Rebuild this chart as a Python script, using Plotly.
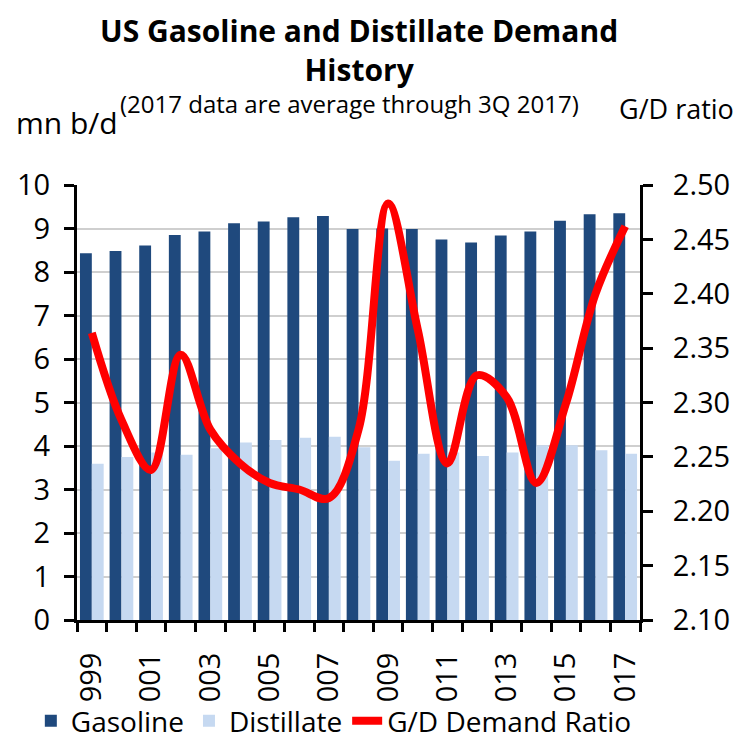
import plotly.graph_objects as go

years = list(range(1999, 2018))
gasoline = [8.43, 8.48, 8.61, 8.85, 8.93, 9.12, 9.16, 9.26, 9.29, 8.99,
            9.00, 8.99, 8.75, 8.68, 8.84, 8.93, 9.18, 9.33, 9.35]
distillate = [3.59, 3.75, 3.85, 3.80, 3.95, 4.08, 4.14, 4.19, 4.21, 3.97,
              3.66, 3.82, 3.85, 3.77, 3.85, 4.02, 4.02, 3.90, 3.82]
gd_ratio = [2.364, 2.284, 2.238, 2.344, 2.275, 2.244, 2.226, 2.220, 2.212, 2.275,
            2.483, 2.367, 2.244, 2.325, 2.305, 2.226, 2.299, 2.400, 2.462]
tick_years = [1999, 2001, 2003, 2005, 2007, 2009, 2011, 2013, 2015, 2017]
tick_labels = ["999", "001", "003", "005", "007", "009", "011", "013", "015", "017"]

FONT = "Open Sans"
FS = 29
fig = go.Figure()
fig.add_trace(go.Bar(x=years, y=gasoline, name="Gasoline",
                     marker=dict(color="#1F497D", line=dict(width=0))))
fig.add_trace(go.Bar(x=years, y=distillate, name="Distillate",
                     marker=dict(color="#C6D9F1", line=dict(width=0))))
fig.add_trace(go.Scatter(x=years, y=gd_ratio, name="G/D Demand Ratio", yaxis="y2",
                         mode="lines", line=dict(color="#FF0000", width=8,
                                                 shape="spline", smoothing=1.0)))

# page adds an 8px body margin, so the figure is 745x733
fig.update_layout(
    width=745, height=733,
    margin=dict(l=69, r=113, t=177, b=121, autoexpand=False),
    paper_bgcolor="white", plot_bgcolor="white",
    font=dict(family=FONT, size=FS, color="black"),
    barmode="group", bargap=0.2, bargroupgap=0,
    showlegend=True,
    legend=dict(orientation="h", x=-0.082, y=-0.29, xanchor="left", yanchor="bottom",
                font=dict(size=28), itemwidth=30, tracegroupgap=0,
                bgcolor="rgba(0,0,0,0)"),
    xaxis=dict(range=[1998.5, 2017.5], tickmode="array", tickvals=tick_years,
               ticktext=tick_labels, tickangle=-90, ticks="", automargin=False,
               showline=True, linecolor="black", linewidth=3, showgrid=False,
               minor=dict(ticks="outside", tick0=1998.5, dtick=1, ticklen=9,
                          tickwidth=3, tickcolor="black", showgrid=False),
               tickfont=dict(size=FS), ticklabelstandoff=18),
    yaxis=dict(range=[0, 10], dtick=1, ticks="outside", ticklen=10, tickwidth=3,
               tickcolor="black", showline=True, linecolor="black", linewidth=3,
               showgrid=True, gridcolor="#CFCFCF", gridwidth=1.5, zeroline=False,
               tickfont=dict(size=FS), automargin=False, ticklabelstandoff=8),
    yaxis2=dict(range=[2.10, 2.50], dtick=0.05, tickformat=".2f", overlaying="y",
                side="right", ticks="outside", ticklen=10, tickwidth=3,
                tickcolor="black", showline=True, linecolor="black", linewidth=3,
                showgrid=False, zeroline=False, tickfont=dict(size=FS),
                automargin=False, ticklabelstandoff=14),
)
fig.add_annotation(text="<b>US Gasoline and Distillate Demand<br>History</b>",
                   xref="paper", yref="paper", x=0.50, y=1.0, yshift=177,
                   xanchor="center", yanchor="top", showarrow=False,
                   font=dict(size=30), align="center")
fig.add_annotation(text="(2017 data are average through 3Q 2017)",
                   xref="paper", yref="paper", x=0.073, y=1.0, yshift=82,
                   xanchor="left", yanchor="middle", showarrow=False,
                   font=dict(size=24))
fig.add_annotation(text="mn b/d", xref="paper", yref="paper", x=-0.112, y=1.0,
                   yshift=63, xanchor="left", yanchor="middle", showarrow=False,
                   font=dict(size=30))
fig.add_annotation(text="G/D ratio", xref="paper", yref="paper", x=1.17, y=1.0,
                   yshift=77, xanchor="right", yanchor="middle", showarrow=False,
                   font=dict(size=27))

fig.write_html("out.html")
